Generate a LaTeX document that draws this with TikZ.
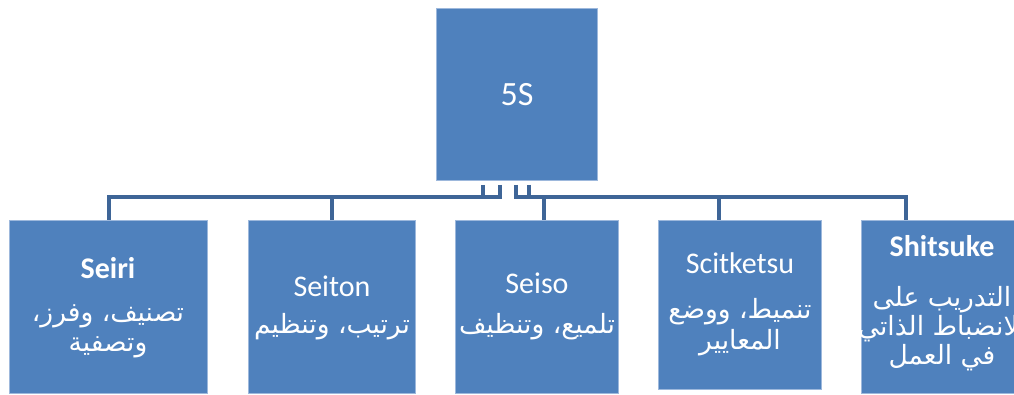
\documentclass[tikz,border=0pt]{standalone}
\usepackage{fontspec}
\setmainfont{Carlito}
\newfontfamily\arabicfont[Script=Arabic]{DejaVu Sans}
\TeXXeTstate=1
\definecolor{boxfill}{HTML}{4F81BD}
\definecolor{boxedge}{HTML}{9DB8DC}
\definecolor{conncol}{HTML}{3E6597}
\tikzset{
  box/.style={draw=boxedge, fill=boxfill, line width=0.8pt, inner sep=0pt},
  conn/.style={draw=conncol, line width=4pt},
  lat/.style={text=white, font=\fontsize{30}{36}\selectfont, inner sep=0pt, anchor=base},
  latb/.style={lat, font=\fontsize{30}{36}\selectfont\bfseries},
  ar/.style={text=white, font=\arabicfont\fontsize{26.5}{32}\selectfont, inner sep=0pt, anchor=base},
}
\begin{document}
\begin{tikzpicture}[x=1pt,y=-1pt]
\fill[white] (0,0) rectangle (1014,395);
\useasboundingbox (0,0) rectangle (1014,395);
% boxes
\node[box, minimum width=161pt, minimum height=172pt] (top) at (516.5,94) {};
\node[box, minimum width=198pt, minimum height=173pt] (seiri) at (108,306.5) {};
\node[box, minimum width=167pt, minimum height=173pt] (seiton) at (331.5,306.5) {};
\node[box, minimum width=163pt, minimum height=173pt] (seiso) at (536.5,306.5) {};
\node[box, minimum width=163pt, minimum height=169pt] (scit) at (739.5,304.5) {};
\node[box, minimum width=162pt, minimum height=173pt] (shit) at (942,306.5) {};
% connectors
\coordinate (busy) at (0,197);
\coordinate (s1) at (483,185);
\coordinate (s2) at (500,185);
\coordinate (s3) at (516,185);
\coordinate (s4) at (529,185);
\draw[conn] (s1) -- (s1 |- busy) -| ([xshift=1pt]seiri.north);
\draw[conn] (s2) -- (s2 |- busy) -| (seiton.north);
\draw[conn] (s3) -- (s3 |- busy) -| ([xshift=7.5pt]seiso.north);
\draw[conn] (s4) -- (s4 |- busy) -| ([xshift=-20.5pt]scit.north);
\draw[conn] (s4) -- (s4 |- busy) -| ([xshift=-36pt]shit.north);
% texts
\node[text=white, font=\fontsize{34}{40}\selectfont, inner sep=0pt] (t5s) at (517,95) {5S};
\node[latb] (l1) at (108,278) {Seiri};
\node[ar] (a11) at (108,321) {\beginR تصنيف، وفرز،\endR};
\node[ar] (a12) at (108,351) {\beginR وتصفية\endR};
\node[lat] (l2) at (332,296) {Seiton};
\node[ar] (a21) at (332,333) {\beginR ترتيب، وتنظيم\endR};
\node[lat] (l3) at (537,293) {Seiso};
\node[ar] (a31) at (537,333) {\beginR تلميع، وتنظيف\endR};
\node[lat] (l4) at (740,273) {Scitketsu};
\node[ar] (a41) at (740,318) {\beginR تنميط، ووضع\endR};
\node[ar] (a42) at (740,349) {\beginR المعايير\endR};
\node[latb] (l5) at (942,257) {Shitsuke};
\node[ar] (a51) at (942,306) {\beginR التدريب على\endR};
\node[ar] (a52) at (942,335) {\beginR الانضباط الذاتي\endR};
\node[ar] (a53) at (942,364) {\beginR في العمل\endR};
\end{tikzpicture}
\end{document}
